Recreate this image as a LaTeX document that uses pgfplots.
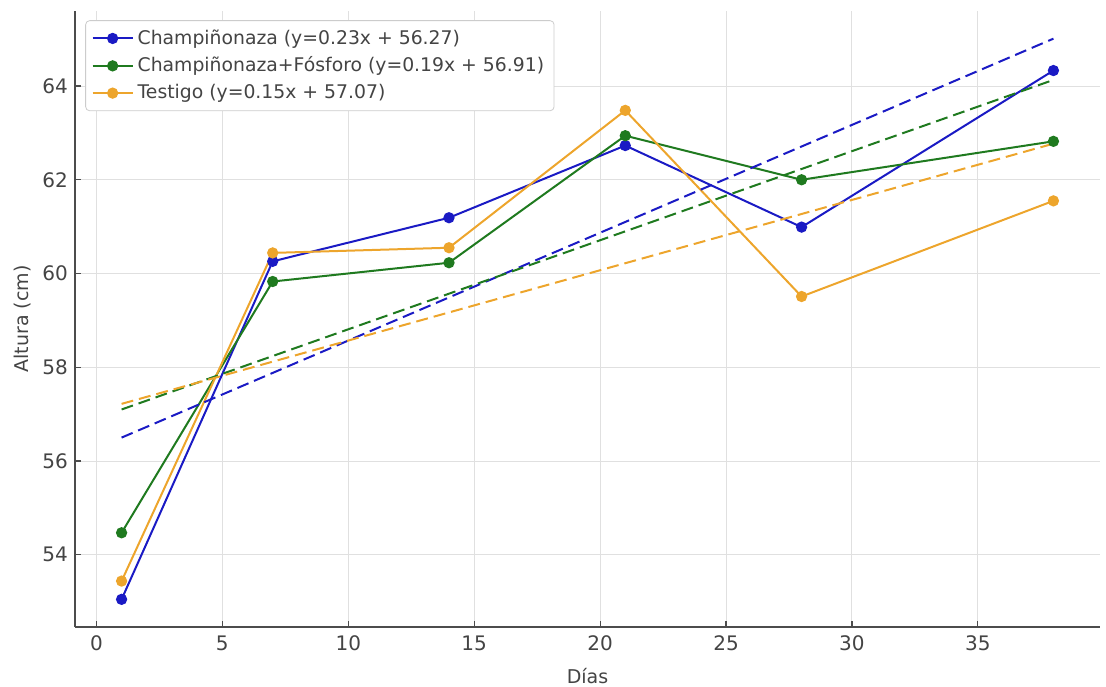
\documentclass[border=0pt]{standalone}
\usepackage{pgfplots}
\pgfplotsset{compat=1.18}
\usepackage{fontspec}
\setmainfont{DejaVu Sans}
\definecolor{cblue}{HTML}{1A1AC4}
\definecolor{cgreen}{HTML}{1F7A1F}
\definecolor{corange}{HTML}{EDA52C}
\definecolor{tickgray}{HTML}{444444}
\begin{document}
\begin{tikzpicture}
\useasboundingbox (-37.5pt,-29.5pt) rectangle (515.5pt,313.5pt);
\begin{axis}[
  scale only axis,
  width=512.5pt, height=308pt,
  xmin=-0.85, xmax=39.85, ymin=52.46, ymax=65.6,
  xtick={0,5,...,35}, ytick={54,56,...,64},
  axis x line*=bottom, axis y line*=left,
  axis line style={draw=black!70, line width=1pt, -},
  tick style={draw=black!70, line width=0.6pt},
  major tick length=3pt,
  tick align=inside,
  grid=major,
  major grid style={draw=black!12, line width=0.5pt},
  ticklabel style={font=\fontsize{10}{12}\selectfont, text=tickgray},
  xticklabel style={yshift=-1pt},
  /pgf/number format/assume math mode=true,
  xlabel={Días}, ylabel={Altura (cm)},
  label style={font=\fontsize{9.5}{11}\selectfont, text=tickgray},
  xlabel style={yshift=-1.5pt},
  ylabel style={yshift=-1pt},
  legend style={at={(rel axis cs:0.01,0.985)}, anchor=north west,
    font=\fontsize{9.4}{11.5}\selectfont, text=tickgray,
    draw=black!20, rounded corners=2pt, row sep=0.8pt,
    inner xsep=3pt, inner ysep=2.5pt},
  legend cell align=left,
  legend image code/.code={%
    \draw[mark repeat=2,mark phase=2] plot coordinates {(0pt,0pt) (10pt,0pt) (20pt,0pt)};},
  legend image post style={line width=1pt},
]
\addplot[cblue, line width=1pt, mark=*, mark size=2.3pt] coordinates {
  (1,53.05) (7,60.26) (14,61.19) (21,62.73) (28,60.99) (38,64.33)};
\addlegendentry{Champiñonaza (y=0.23x + 56.27)}
\addplot[cgreen, line width=1pt, mark=*, mark size=2.3pt] coordinates {
  (1,54.47) (7,59.83) (14,60.23) (21,62.94) (28,62.00) (38,62.82)};
\addlegendentry{Champiñonaza+Fósforo (y=0.19x + 56.91)}
\addplot[corange, line width=1pt, mark=*, mark size=2.3pt] coordinates {
  (1,53.44) (7,60.44) (14,60.55) (21,63.48) (28,59.51) (38,61.55)};
\addlegendentry{Testigo (y=0.15x + 57.07)}
\addplot[cblue, line width=1pt, dash pattern=on 6pt off 3pt, forget plot] coordinates {(1,56.50) (38,65.01)};
\addplot[cgreen, line width=1pt, dash pattern=on 6pt off 3pt, forget plot] coordinates {(1,57.10) (38,64.13)};
\addplot[corange, line width=1pt, dash pattern=on 6pt off 3pt, forget plot] coordinates {(1,57.22) (38,62.77)};
\end{axis}
\end{tikzpicture}
\end{document}
